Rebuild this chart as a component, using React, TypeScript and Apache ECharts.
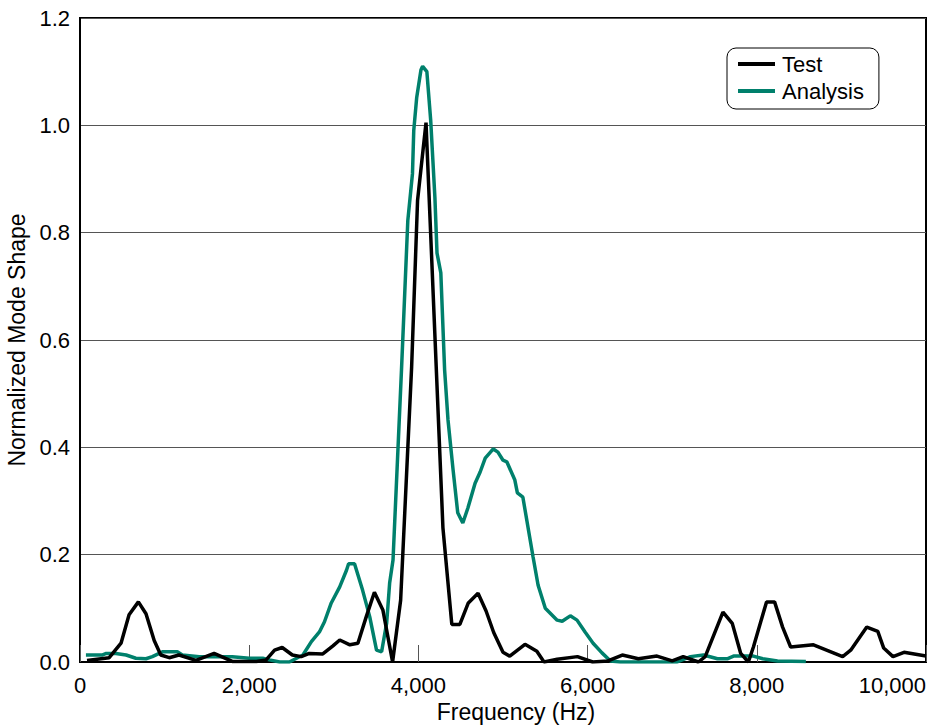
import React, { useEffect, useRef } from "react";
import * as echarts from "echarts";

const xTicks = [0, 2000, 4000, 6000, 8000, 10000];
const yTicks = [0, 0.2, 0.4, 0.6, 0.8, 1.0, 1.2];

const testFreq = [
  83, 345, 485, 580, 690, 780, 877, 955, 1055, 1170, 1370, 1585, 1800, 2085, 2200, 2300, 2390, 2510, 2615, 2710,
  2870, 2990, 3070, 3190, 3285, 3385, 3480, 3580, 3695, 3790, 3920, 3990, 4090, 4290, 4395, 4490, 4590, 4705, 4800,
  4890, 5000, 5080, 5260, 5400, 5485, 5640, 5880, 6060, 6240, 6410, 6600, 6820, 7000, 7130, 7310, 7390, 7600, 7710,
  7810, 7900, 7960, 8115, 8210, 8305, 8400, 8670, 9015, 9110, 9300, 9430, 9500, 9610, 9740, 10000,
];
const testValue = [
  0.003, 0.008, 0.035, 0.088, 0.112, 0.09, 0.04, 0.013, 0.008, 0.013, 0.003, 0.016, 0.001, 0.001, 0.004, 0.022, 0.027,
  0.013, 0.01, 0.016, 0.015, 0.03, 0.041, 0.032, 0.035, 0.085, 0.13, 0.097, 0.0, 0.115, 0.55, 0.86, 1.005, 0.25, 0.07,
  0.07, 0.11, 0.128, 0.095, 0.055, 0.018, 0.011, 0.033, 0.02, 0.0, 0.005, 0.01, 0.0, 0.002, 0.013, 0.006, 0.011, 0.002,
  0.01, 0.0, 0.01, 0.093, 0.072, 0.016, 0.0, 0.028, 0.112, 0.112, 0.065, 0.028, 0.032, 0.01, 0.022, 0.065, 0.057, 0.026,
  0.01, 0.018, 0.011,
];

const analysisFreq = [
  70, 260, 310, 425, 545, 660, 780, 855, 975, 1150, 1210, 1410, 1800, 2000, 2160, 2240, 2360, 2475, 2560, 2635, 2735,
  2830, 2890, 2970, 3070, 3150, 3175, 3245, 3340, 3425, 3505, 3565, 3625, 3660, 3700, 3800, 3875, 3930, 3945, 3980,
  4030, 4050, 4100, 4145, 4195, 4220, 4265, 4310, 4350, 4410, 4465, 4525, 4585, 4670, 4730, 4790, 4885, 4940, 5000,
  5045, 5140, 5170, 5235, 5355, 5415, 5500, 5640, 5700, 5795, 5875, 5970, 6065, 6170, 6270, 6385, 7060, 7215, 7370,
  7535, 7650, 7725, 7960, 8070, 8245, 8580,
];
const analysisValue = [
  0.013, 0.013, 0.016, 0.016, 0.013, 0.007, 0.006, 0.01, 0.019, 0.019, 0.013, 0.01, 0.01, 0.007, 0.007, 0.004, 0.0, 0.0,
  0.007, 0.013, 0.038, 0.056, 0.075, 0.11, 0.14, 0.171, 0.183, 0.183, 0.134, 0.084, 0.022, 0.019, 0.073, 0.147, 0.19,
  0.544, 0.823, 0.91, 0.99, 1.052, 1.103, 1.11, 1.1, 1.01, 0.866, 0.762, 0.725, 0.544, 0.451, 0.358, 0.278, 0.259, 0.287,
  0.333, 0.354, 0.38, 0.397, 0.391, 0.376, 0.373, 0.339, 0.315, 0.307, 0.196, 0.143, 0.1, 0.078, 0.076, 0.086, 0.078,
  0.056, 0.035, 0.017, 0.002, 0.0, 0.0, 0.01, 0.013, 0.006, 0.006, 0.011, 0.011, 0.006, 0.002, 0.001,
];

const seriesNames = ["Test", "Analysis"];
const FONT = "'Liberation Sans', Arial, sans-serif";
const GREEN = "#00806c";

export default function App() {
  const ref = useRef<HTMLDivElement>(null);
  useEffect(() => {
    if (!ref.current) return;
    const chart = echarts.init(ref.current, null, { renderer: "svg" });
    const testData = testFreq.map((f, i) => [f, testValue[i]]);
    const analysisData = analysisFreq.map((f, i) => [f, analysisValue[i]]);
    chart.setOption({
      animation: false,
      backgroundColor: "#ffffff",
      textStyle: { fontFamily: FONT },
      grid: {
        left: 80,
        right: 20,
        top: 18,
        bottom: 64,
        show: true,
        borderColor: "#000",
        borderWidth: 2,
        containLabel: false,
        outerBoundsMode: "none",
      },
      legend: {
        orient: "vertical",
        left: 727,
        top: 48,
        padding: [5, 15, 7, 11],
        itemGap: 5,
        itemWidth: 37,
        itemHeight: 4,
        icon: "rect",
        borderColor: "#000",
        borderWidth: 1,
        borderRadius: 9,
        textStyle: { fontSize: 22, color: "#000", fontFamily: FONT, padding: [0, 0, 0, 2] },
        data: seriesNames,
      },
      xAxis: {
        type: "value",
        min: xTicks[0],
        max: xTicks[xTicks.length - 1],
        interval: 2000,
        name: "Frequency (Hz)",
        nameLocation: "middle",
        nameGap: 38,
        nameTextStyle: { fontSize: 23, color: "#000", fontFamily: FONT, padding: [0, 0, 0, 26] },
        axisLine: { show: true, lineStyle: { color: "#000", width: 2 } },
        axisTick: { show: true, inside: true, length: 17, lineStyle: { color: "#555", width: 1 } },
        splitLine: { show: false },
        axisLabel: {
          fontSize: 22,
          color: "#000",
          fontFamily: FONT,
          margin: 12,
          alignMaxLabel: "right",
          formatter: (v: number) => v.toLocaleString("en-US"),
        },
      },
      yAxis: {
        type: "value",
        min: yTicks[0],
        max: yTicks[yTicks.length - 1],
        interval: 0.2,
        name: "Normalized Mode Shape",
        nameLocation: "middle",
        nameGap: 52,
        nameTextStyle: { fontSize: 23, color: "#000", fontFamily: FONT },
        axisLine: { show: true, lineStyle: { color: "#000", width: 2 } },
        axisTick: { show: false },
        splitLine: { show: true, lineStyle: { color: "#555", width: 1 } },
        axisLabel: {
          fontSize: 22,
          color: "#000",
          fontFamily: FONT,
          margin: 10,
          formatter: (v: number) => v.toFixed(1),
        },
      },
      series: [
        {
          name: seriesNames[0],
          type: "line",
          data: testData,
          showSymbol: false,
          symbol: "none",
          lineStyle: { color: "#000", width: 3.5 },
          itemStyle: { color: "#000" },
          z: 3,
        },
        {
          name: seriesNames[1],
          type: "line",
          data: analysisData,
          showSymbol: false,
          symbol: "none",
          lineStyle: { color: GREEN, width: 3.5 },
          itemStyle: { color: GREEN },
          z: 2,
        },
      ],
    });
    return () => chart.dispose();
  }, []);
  return <div ref={ref} style={{ width: 946, height: 726, position: "absolute", left: 0, top: 0 }} />;
}
